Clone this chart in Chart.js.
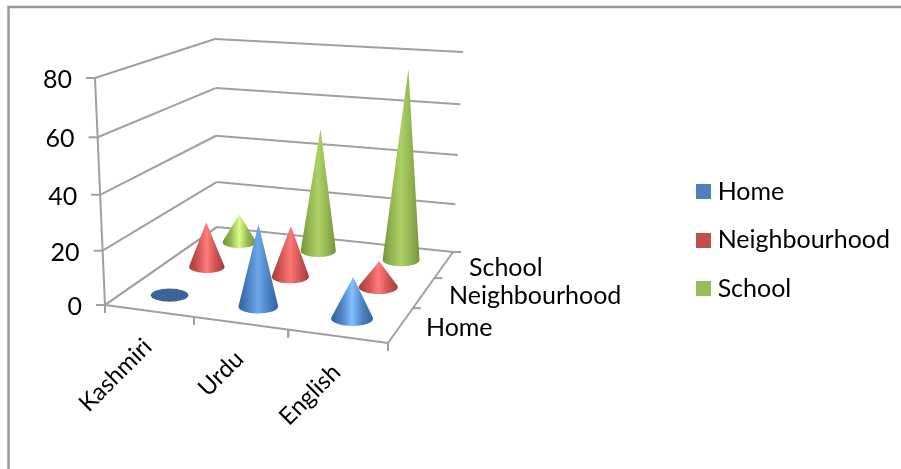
<!DOCTYPE html>
<html>
<head>
<meta charset="utf-8">
<style>
  html, body { margin: 0; padding: 0; background: #fff; overflow: hidden; }
  canvas { display: block; }
</style>
<script src="https://cdn.jsdelivr.net/npm/chart.js@4/dist/chart.umd.min.js"></script>
</head>
<body>
<canvas id="chart" width="901" height="469"></canvas>
<script>
// Language use by setting
const categories = ['Kashmiri', 'Urdu', 'English'];
const seriesNames = ['Home', 'Neighbourhood', 'School'];
const homeValues = [0, 30, 15];
const neighbourhoodValues = [18, 20, 10];
const schoolValues = [12, 50, 75];
const valueTicks = [0, 20, 40, 60, 80];

const FONT_FAMILY = 'Lato, "Open Sans", sans-serif';
const FONT_SIZE = 25;
const CATEGORY_FONT_SIZE = 24;
const AXIS_COLOR = '#a0a0a0';
const FRAME_COLOR = '#969696';
const TEXT_COLOR = '#000000';
const legendColors = ['#4f81bd', '#c0504d', '#9bbb59'];
const coneShades = [
  { edge: '#33639a', mid: '#4a82c4', tall: '#6da6e6', short: '#86bfff', disc: '#3a6596' },
  { edge: '#a43b39', mid: '#cf5552', tall: '#ff7777', short: '#ff7c7c', disc: '#a43b39' },
  { edge: '#76933a', mid: '#94b653', tall: '#add165', short: '#d8ff85', disc: '#76933a' }
];

// Corners of the floor and of the plane at the top of the value axis,
// ordered front-left, front-right, back-right, back-left.
const floorCorners = [[105, 305], [388, 343], [453, 252], [217, 227]];
const ceilingCorners = [[95, 78], [396.5, 97.5], [463, 52], [215, 39]];
const HEIGHT_FORESHORTENING = 1.06;
const CONE_RADIUS = 0.435;
const CONE_SQUASH = 0.35;

// Perspective map from the unit square to a quadrilateral.
function squareToQuad(q) {
  const [[x0, y0], [x1, y1], [x2, y2], [x3, y3]] = q;
  const dx1 = x1 - x2, dx2 = x3 - x2, sx = x0 - x1 + x2 - x3;
  const dy1 = y1 - y2, dy2 = y3 - y2, sy = y0 - y1 + y2 - y3;
  const den = dx1 * dy2 - dx2 * dy1;
  const g = (sx * dy2 - dx2 * sy) / den;
  const h = (dx1 * sy - sx * dy1) / den;
  const a = x1 - x0 + g * x1, b = x3 - x0 + h * x3;
  const d = y1 - y0 + g * y1, e = y3 - y0 + h * y3;
  return (u, v) => {
    const w = g * u + h * v + 1;
    return [(a * u + b * v + x0) / w, (d * u + e * v + y0) / w];
  };
}
const floorMap = squareToQuad(floorCorners);
const ceilingMap = squareToQuad(ceilingCorners);

// u runs along the categories, v along the series, t up the value axis (all 0..1).
function project(u, v, t) {
  const s = t / (t + (1 - t) * HEIGHT_FORESHORTENING);
  const f = floorMap(u, v), c = ceilingMap(u, v);
  return [f[0] + (c[0] - f[0]) * s, f[1] + (c[1] - f[1]) * s];
}

function drawCone(ctx, u, v, t, halfCell, shade) {
  const [cx, cy] = project(u, v, 0);
  const [ax, ay] = project(u, v, t);
  const rx = (floorMap(u + halfCell, v)[0] - floorMap(u - halfCell, v)[0]) / 2 * CONE_RADIUS;
  const ry = rx * CONE_SQUASH;
  const height = cy - ay;
  ctx.save();
  if (height <= ry) {
    ctx.fillStyle = shade.disc;
    ctx.beginPath();
    ctx.ellipse(cx, cy, rx, ry, 0, 0, Math.PI * 2);
    ctx.fill();
    ctx.restore();
    return;
  }
  const grad = ctx.createLinearGradient(cx - rx, 0, cx + rx, 0);
  const hi = height < 48 ? shade.short : shade.tall;
  grad.addColorStop(0, shade.edge);
  grad.addColorStop(0.25, shade.mid);
  grad.addColorStop(0.5, hi);
  grad.addColorStop(0.75, shade.mid);
  grad.addColorStop(1, shade.edge);
  const tangent = Math.asin(Math.min(1, ry / height));
  ctx.fillStyle = grad;
  ctx.beginPath();
  ctx.moveTo(ax, ay);
  ctx.ellipse(cx, cy, rx, ry, 0, Math.PI + tangent, -tangent, true);
  ctx.closePath();
  ctx.fill();
  ctx.restore();
}

// Bar layout from the library, with each bar rendered as a cone in the 3D frame.
class ConeController extends Chart.BarController {
  static id = 'cone';
  draw() {
    const { ctx, scales } = this.chart;
    const xs = scales.x, ys = scales.y, zs = scales.depth;
    const v = (zs.getPixelForValue(this.index) - zs.left) / zs.width;
    const shade = coneShades[this.index];
    const halfCell = 0.5 / xs.getLabels().length;
    this.getMeta().data.forEach(bar => {
      const u = (bar.x - xs.left) / xs.width;
      const t = (bar.base - bar.y) / ys.height;
      drawCone(ctx, u, v, t, halfCell, shade);
    });
  }
}
Chart.register(ConeController);

function strokeLine(ctx, a, b) {
  ctx.beginPath();
  ctx.moveTo(a[0], a[1]);
  ctx.lineTo(b[0], b[1]);
  ctx.stroke();
}

const frame3d = {
  id: 'frame3d',
  beforeDatasetsDraw(chart) {
    const { ctx, scales } = chart;
    const ys = scales.y, xs = scales.x, zs = scales.depth;
    ctx.save();
    ctx.strokeStyle = FRAME_COLOR;
    ctx.lineWidth = 2.4;
    ctx.beginPath();
    ctx.moveTo(8.5, chart.height + 2);
    ctx.lineTo(8.5, 7);
    ctx.lineTo(chart.width + 2, 7);
    ctx.stroke();

    ctx.strokeStyle = AXIS_COLOR;
    ctx.lineWidth = 2;
    // Value gridlines on the left and back walls, and their ticks
    valueTicks.forEach(value => {
      const t = (ys.bottom - ys.getPixelForValue(value)) / ys.height;
      const front = project(0, 0, t), corner = project(0, 1, t), right = project(1, 1, t);
      strokeLine(ctx, front, corner);
      strokeLine(ctx, corner, right);
      strokeLine(ctx, [front[0] - 9, front[1]], front);
    });
    strokeLine(ctx, project(0, 0, 0), project(0, 0, 1));
    // Floor outline
    strokeLine(ctx, project(0, 0, 0), project(1, 0, 0));
    strokeLine(ctx, project(1, 0, 0), project(1, 1, 0));
    strokeLine(ctx, project(0, 1, 0), project(0, 0, 0));
    // Category ticks below the front edge and depth ticks beside the right edge
    categories.forEach((_, i) => {
      [i, i + 1].forEach(k => {
        const p = project(k / categories.length, 0, 0);
        strokeLine(ctx, p, [p[0], p[1] + 8]);
      });
    });
    seriesNames.forEach((_, i) => {
      const p = project(1, (i + 1) / seriesNames.length, 0);
      strokeLine(ctx, p, [p[0] + 8, p[1]]);
    });

    ctx.fillStyle = TEXT_COLOR;
    ctx.font = FONT_SIZE + 'px ' + FONT_FAMILY;
    ctx.textBaseline = 'middle';
    ctx.textAlign = 'right';
    valueTicks.forEach(value => {
      const t = (ys.bottom - ys.getPixelForValue(value)) / ys.height;
      const p = project(0, 0, t);
      ctx.fillText(String(value), p[0] - 23, p[1] + 2);
    });
    ctx.font = CATEGORY_FONT_SIZE + 'px ' + FONT_FAMILY;
    categories.forEach((name, i) => {
      const u = (xs.getPixelForValue(i) - xs.left) / xs.width;
      const p = project(u, 0, 0);
      ctx.save();
      ctx.translate(p[0] - 1, p[1] + 32);
      ctx.rotate(-Math.PI / 4);
      ctx.fillText(name, 0, 0);
      ctx.restore();
    });
    ctx.font = FONT_SIZE + 'px ' + FONT_FAMILY;
    ctx.textAlign = 'left';
    seriesNames.forEach((name, i) => {
      const v = (zs.getPixelForValue(i) - zs.left) / zs.width;
      const p = project(1, v, 0);
      ctx.fillText(name, p[0] + 25, p[1] + 3);
    });
    ctx.restore();
  }
};

function legendSwatch(color) {
  const c = document.createElement('canvas');
  c.width = 15;
  c.height = 15;
  const g = c.getContext('2d');
  g.fillStyle = color;
  g.fillRect(0, 0, 15, 15);
  return c;
}

const seriesValues = [homeValues, neighbourhoodValues, schoolValues];

new Chart(document.getElementById('chart'), {
  type: 'cone',
  data: {
    labels: categories,
    datasets: seriesNames.map((name, i) => ({
      label: name,
      data: seriesValues[i],
      xAxisID: 'x',
      yAxisID: 'y',
      grouped: false,
      backgroundColor: legendColors[i]
    }))
  },
  plugins: [frame3d],
  options: {
    responsive: false,
    animation: false,
    layout: { padding: { left: 95, top: 39, bottom: 28, right: 1 } },
    scales: {
      x: { type: 'category', offset: true, display: false },
      depth: { type: 'category', axis: 'x', labels: seriesNames, offset: true, display: false },
      y: { type: 'linear', min: valueTicks[0], max: valueTicks[valueTicks.length - 1], display: false }
    },
    plugins: {
      tooltip: { enabled: false },
      legend: {
        position: 'right',
        labels: {
          color: TEXT_COLOR,
          font: { family: FONT_FAMILY, size: FONT_SIZE },
          usePointStyle: true,
          pointStyleWidth: 4,
          padding: 23.5,
          generateLabels(chart) {
            return Chart.defaults.plugins.legend.labels.generateLabels(chart).map((item, i) => {
              item.pointStyle = legendSwatch(legendColors[i]);
              return item;
            });
          }
        }
      }
    }
  }
});
</script>
</body>
</html>
